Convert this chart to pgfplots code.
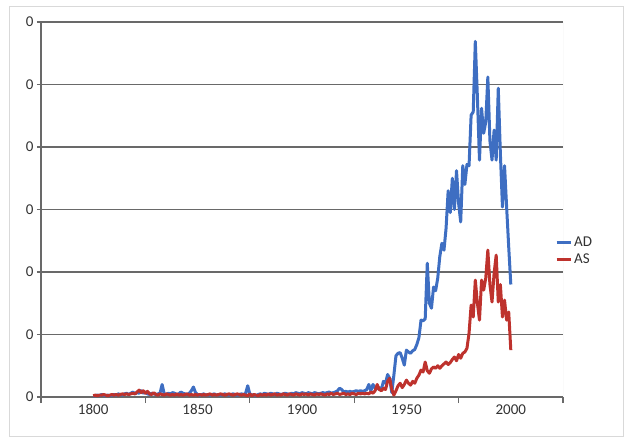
\documentclass[border=0pt]{standalone}
\usepackage{fontspec}
\setmainfont{Carlito}
\usepackage{pgfplots}
\pgfplotsset{compat=1.18}
\usepackage{pgfplotstable}
\definecolor{ADblue}{RGB}{62,110,194}
\definecolor{ASred}{RGB}{190,50,45}
\definecolor{gridgray}{RGB}{105,105,105}
\definecolor{labelgray}{RGB}{50,50,50}

\pgfplotstableread{
year ad as
1800 0.02 0.02
1801 0.02 0.03
1802 0.03 0.02
1803 0.02 0.03
1804 0.04 0.03
1805 0.03 0.04
1806 0.02 0.03
1807 0.03 0.02
1808 0.02 0.03
1809 0.03 0.04
1810 0.04 0.03
1811 0.03 0.04
1812 0.05 0.03
1813 0.04 0.04
1814 0.03 0.05
1815 0.05 0.04
1816 0.06 0.05
1817 0.04 0.04
1818 0.06 0.05
1819 0.08 0.06
1820 0.05 0.05
1821 0.07 0.08
1822 0.06 0.11
1823 0.10 0.07
1824 0.06 0.10
1825 0.08 0.06
1826 0.05 0.09
1827 0.04 0.05
1828 0.06 0.04
1829 0.05 0.07
1830 0.04 0.04
1831 0.05 0.03
1832 0.06 0.05
1833 0.20 0.04
1834 0.05 0.03
1835 0.04 0.05
1836 0.06 0.04
1837 0.05 0.03
1838 0.07 0.04
1839 0.06 0.03
1840 0.04 0.05
1841 0.05 0.03
1842 0.08 0.04
1843 0.06 0.03
1844 0.05 0.04
1845 0.04 0.05
1846 0.06 0.03
1847 0.10 0.04
1848 0.16 0.03
1849 0.07 0.04
1850 0.04 0.03
1851 0.03 0.04
1852 0.04 0.03
1853 0.05 0.04
1854 0.03 0.03
1855 0.04 0.04
1856 0.03 0.05
1857 0.04 0.03
1858 0.05 0.04
1859 0.03 0.03
1860 0.04 0.04
1861 0.03 0.05
1862 0.04 0.04
1863 0.05 0.03
1864 0.04 0.04
1865 0.03 0.05
1866 0.04 0.04
1867 0.05 0.03
1868 0.04 0.04
1869 0.03 0.05
1870 0.04 0.04
1871 0.05 0.03
1872 0.04 0.04
1873 0.06 0.03
1874 0.18 0.02
1875 0.05 0.05
1876 0.03 0.02
1877 0.04 0.04
1878 0.02 0.03
1879 0.04 0.02
1880 0.05 0.04
1881 0.04 0.03
1882 0.06 0.04
1883 0.05 0.03
1884 0.04 0.05
1885 0.06 0.03
1886 0.05 0.04
1887 0.04 0.05
1888 0.06 0.03
1889 0.05 0.04
1890 0.04 0.03
1891 0.05 0.05
1892 0.06 0.04
1893 0.05 0.03
1894 0.04 0.05
1895 0.06 0.04
1896 0.05 0.03
1897 0.07 0.05
1898 0.06 0.04
1899 0.05 0.03
1900 0.07 0.05
1901 0.06 0.04
1902 0.05 0.05
1903 0.07 0.03
1904 0.06 0.05
1905 0.05 0.04
1906 0.07 0.03
1907 0.06 0.05
1908 0.05 0.04
1909 0.06 0.05
1910 0.07 0.04
1911 0.06 0.03
1912 0.07 0.05
1913 0.08 0.04
1914 0.06 0.06
1915 0.07 0.04
1916 0.08 0.05
1917 0.10 0.06
1918 0.14 0.04
1919 0.12 0.05
1920 0.08 0.06
1921 0.09 0.04
1922 0.08 0.05
1923 0.09 0.04
1924 0.08 0.06
1925 0.09 0.05
1926 0.10 0.04
1927 0.09 0.06
1928 0.10 0.05
1929 0.09 0.06
1930 0.10 0.05
1931 0.12 0.06
1932 0.20 0.05
1933 0.10 0.08
1934 0.20 0.06
1935 0.14 0.10
1936 0.13 0.20
1937 0.15 0.12
1938 0.12 0.10
1939 0.25 0.14
1940 0.22 0.12
1941 0.36 0.25
1942 0.30 0.30
1943 0.07 0.12
1944 0.35 0.03
1945 0.66 0.10
1946 0.70 0.18
1947 0.71 0.22
1948 0.62 0.15
1949 0.51 0.20
1950 0.75 0.27
1951 0.72 0.22
1952 0.70 0.19
1953 0.74 0.25
1954 0.76 0.22
1955 0.84 0.30
1956 0.95 0.35
1957 1.23 0.43
1958 1.22 0.40
1959 1.25 0.56
1960 2.14 0.42
1961 1.50 0.38
1962 1.42 0.45
1963 1.76 0.48
1964 1.70 0.46
1965 1.90 0.50
1966 2.25 0.46
1967 2.46 0.50
1968 2.35 0.53
1969 2.70 0.56
1970 3.30 0.52
1971 2.95 0.55
1972 3.50 0.60
1973 3.00 0.64
1974 3.62 0.58
1975 3.10 0.68
1976 2.80 0.62
1977 3.70 0.70
1978 3.40 0.72
1979 3.72 0.78
1980 3.70 1.02
1981 4.51 1.47
1982 4.56 1.28
1983 5.69 1.87
1984 4.80 1.50
1985 3.79 1.23
1986 4.62 1.87
1987 4.22 1.71
1988 4.40 1.90
1989 5.12 2.35
1990 4.10 1.80
1991 3.79 1.52
1992 4.27 1.98
1993 3.79 2.27
1994 4.94 1.52
1995 3.90 1.80
1996 3.04 1.28
1997 3.70 1.55
1998 3.04 1.23
1999 2.40 1.36
2000 1.80 0.75
}\datatable

\begin{document}
\begin{tikzpicture}[font=\fontsize{15}{17}\selectfont]
\begin{axis}[
    width=522pt, height=375pt, scale only axis,
    xmin=1775, xmax=2025, ymin=0, ymax=6,
    xtick={1800,1850,...,2000},
    minor xtick={1775,1825,...,2025},
    ytick={0,1,...,6},
    yticklabels={0,0,0,0,0,0,0},
    axis x line*=bottom, axis y line*=left,
    axis line style={gridgray, line width=1.6pt},
    ymajorgrids,
    major grid style={gridgray, line width=1.6pt},
    tick align=outside,
    major tick length=4pt, minor tick length=6pt,
    tick style={gridgray, line width=1.3pt},
    major x tick style={draw=none},
    tick label style={text=labelgray},
    /pgf/number format/assume math mode=true,
    x tick label style={/pgf/number format/1000 sep={}},
    legend style={at={(1,0.39)}, anchor=west, xshift=-8pt, draw=none, fill=none,
        row sep=2pt, inner sep=0pt, cells={anchor=west}, text=labelgray},
    legend image code/.code={\draw[#1, line width=3pt] (0pt,0pt) -- (14pt,0pt);},
]
\draw[gray!30, line width=0.8pt] (rel axis cs:1,0) -- (rel axis cs:1,1);
\addplot[ADblue, line width=3pt, line join=round, mark=none] table[x=year, y=ad] {\datatable};
\addlegendentry{AD}
\addplot[ASred, line width=3pt, line join=round, mark=none] table[x=year, y=as] {\datatable};
\addlegendentry{AS}
\end{axis}
\draw[gray!30, line width=1pt] ([shift={(-31pt,-39pt)}]current axis.south west) rectangle ([shift={(60pt,15pt)}]current axis.north east);
\path ([shift={(-41pt,-42pt)}]current axis.south west) rectangle ([shift={(63pt,22pt)}]current axis.north east);
\end{tikzpicture}
\end{document}
